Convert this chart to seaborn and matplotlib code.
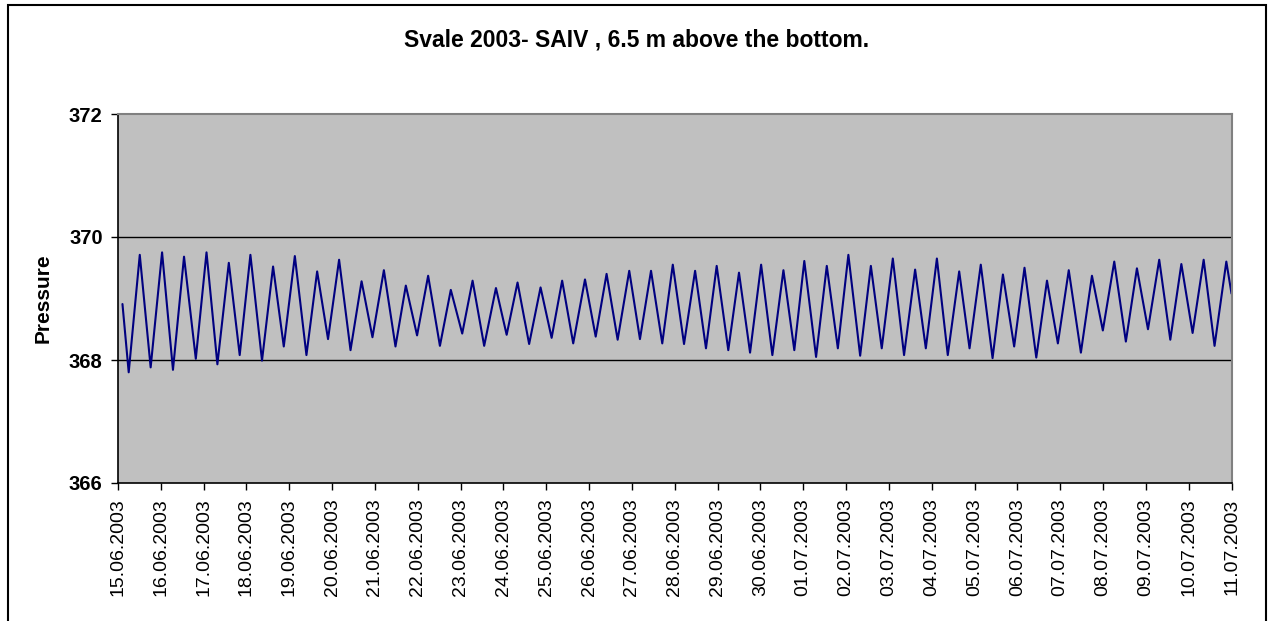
import matplotlib.pyplot as plt
import pandas as pd
import seaborn as sns
from matplotlib.patches import Rectangle

# turning points of the tide trace, hours after 15.06.2003 00:00
hours = [
    2.5, 6.0, 12.2, 18.3, 24.7, 30.8, 37.0, 43.6, 49.6, 55.7,
    62.1, 68.2, 74.2, 80.7, 86.9, 92.9, 99.1, 105.6, 111.6, 117.7,
    123.9, 130.3, 136.5, 142.6, 149.0, 155.5, 161.3, 167.6, 173.8, 180.4,
    186.5, 192.9, 198.7, 205.2, 211.8, 217.8, 223.9, 230.4, 236.8, 243.0,
    248.9, 255.1, 261.7, 267.7, 273.8, 280.0, 286.5, 292.5, 298.7, 305.0,
    310.9, 317.2, 323.4, 329.5, 335.5, 342.0, 348.0, 354.2, 360.4, 366.7,
    372.9, 379.0, 384.6, 391.2, 397.2, 403.4, 409.3, 415.9, 421.9, 428.0,
    434.2, 440.5, 446.7, 452.7, 458.9, 465.0, 471.4, 477.2, 483.5, 490.1,
    495.9, 502.2, 508.0, 514.6, 520.6, 526.7, 532.8, 539.6, 545.8, 551.9,
    558.3, 564.8, 571.0, 577.2, 583.5, 589.7, 595.9, 602.2, 608.4, 614.5,
    621.1, 624.0,
]
pressure = [
    368.91, 367.80, 369.71, 367.88, 369.75, 367.84, 369.68, 368.02, 369.75, 367.93,
    369.58, 368.08, 369.71, 367.99, 369.52, 368.22, 369.69, 368.08, 369.44, 368.34,
    369.63, 368.16, 369.28, 368.37, 369.46, 368.22, 369.21, 368.40, 369.37, 368.23,
    369.14, 368.43, 369.29, 368.23, 369.17, 368.41, 369.26, 368.26, 369.18, 368.36,
    369.29, 368.27, 369.31, 368.38, 369.40, 368.33, 369.45, 368.34, 369.45, 368.27,
    369.55, 368.26, 369.45, 368.19, 369.53, 368.16, 369.42, 368.12, 369.55, 368.08,
    369.46, 368.16, 369.61, 368.05, 369.53, 368.19, 369.71, 368.07, 369.53, 368.19,
    369.65, 368.08, 369.47, 368.19, 369.65, 368.08, 369.44, 368.19, 369.55, 368.03,
    369.39, 368.22, 369.50, 368.04, 369.29, 368.27, 369.46, 368.12, 369.37, 368.48,
    369.60, 368.30, 369.49, 368.50, 369.63, 368.33, 369.56, 368.44, 369.63, 368.23,
    369.60, 369.08,
]
day_labels = [
    "15.06.2003", "16.06.2003", "17.06.2003", "18.06.2003", "19.06.2003",
    "20.06.2003", "21.06.2003", "22.06.2003", "23.06.2003", "24.06.2003",
    "25.06.2003", "26.06.2003", "27.06.2003", "28.06.2003", "29.06.2003",
    "30.06.2003", "01.07.2003", "02.07.2003", "03.07.2003", "04.07.2003",
    "05.07.2003", "06.07.2003", "07.07.2003", "08.07.2003", "09.07.2003",
    "10.07.2003", "11.07.2003",
]
y_ticks = [366, 368, 370, 372]

df = pd.DataFrame({"hours": hours, "pressure": pressure})

sns.set_style("white", {"text.color": "black", "xtick.color": "black",
                        "ytick.color": "black", "axes.labelcolor": "black"})
plt.rcParams["font.family"] = ["Liberation Sans", "DejaVu Sans"]

W, H = 1269, 621
fig = plt.figure(figsize=(W / 100, H / 100), dpi=100)
ax = fig.add_axes([118 / W, 1 - 483 / H, (1231.5 - 118) / W, (483 - 114) / H])
ax.set_facecolor("#c0c0c0")

sns.lineplot(
    data=df, x="hours", y="pressure", ax=ax,
    color="#000080", linewidth=1.5, estimator=None, sort=False,
    solid_joinstyle="round",
)

ax.set_xlim(0, 24 * (len(day_labels) - 1))
ax.set_ylim(y_ticks[0], y_ticks[-1])
ax.set_xticks([24 * i for i in range(len(day_labels))])
ax.set_xticklabels(day_labels, rotation=90, fontsize=14)
ax.set_yticks(y_ticks)
ax.set_yticklabels([str(v) for v in y_ticks], fontsize=14.5, fontweight="bold")
ax.tick_params(axis="both", direction="out", length=5, width=1, color="black",
               left=True, bottom=True)
ax.tick_params(axis="x", pad=6)
ax.tick_params(axis="y", pad=6)

for v in y_ticks[1:-1]:
    ax.axhline(v, color="black", linewidth=1, zorder=1)

ax.set_xlabel("")
ax.set_ylabel("Pressure", fontsize=15, fontweight="bold")
ax.yaxis.set_label_coords((53 - 118) / (1231.5 - 118), 0.5)

for side in ["left", "bottom"]:
    ax.spines[side].set_color("black")
    ax.spines[side].set_linewidth(1.2)
for side in ["top", "right"]:
    ax.spines[side].set_color("#808080")
    ax.spines[side].set_linewidth(1.5)

fig.text(637 / W, 1 - 40 / H, "Svale 2003- SAIV , 6.5 m above the bottom.",
         ha="center", va="center", fontsize=16.5, fontweight="bold")

fig.add_artist(Rectangle((8 / W, -0.05), (1266 - 8) / W, 1.05 - 5 / H,
                         transform=fig.transFigure, fill=False,
                         edgecolor="black", linewidth=1.5))

fig.savefig("out.png", dpi=100)
